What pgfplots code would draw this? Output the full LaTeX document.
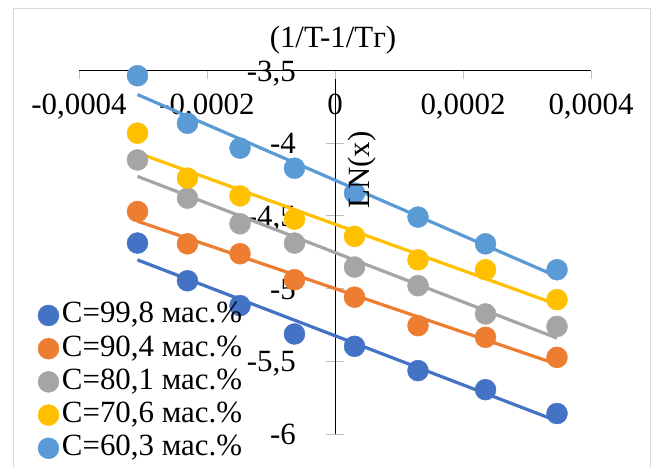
\documentclass[border=0pt]{standalone}
\usepackage{fontspec}
\setmainfont{Liberation Serif}
\usepackage{pgfplots}
\usepackage{pgfplotstable}
\pgfplotsset{compat=1.18}

\definecolor{cA}{HTML}{4472C4}
\definecolor{cB}{HTML}{ED7D31}
\definecolor{cC}{HTML}{A5A5A5}
\definecolor{cD}{HTML}{FFC000}
\definecolor{cE}{HTML}{5B9BD5}
\definecolor{axgray}{HTML}{BFBFBF}
\definecolor{framegray}{HTML}{D9D9D9}

\newcommand\bigfont{\fontsize{31}{37}\selectfont}

% C = 99,8
\pgfplotstableread{
x y
-0.0003086 -4.687
-0.0002305 -4.946
-0.0001484 -5.117
-0.0000633 -5.312
0.0000305 -5.397
0.0001297 -5.564
0.0002352 -5.695
0.0003469 -5.859
}\tabA
% C = 90,4
\pgfplotstableread{
x y
-0.0003086 -4.470
-0.0002305 -4.692
-0.0001484 -4.760
-0.0000633 -4.939
0.0000305 -5.059
0.0001297 -5.255
0.0002352 -5.335
0.0003469 -5.473
}\tabB
% C = 80,1
\pgfplotstableread{
x y
-0.0003086 -4.115
-0.0002305 -4.378
-0.0001484 -4.554
-0.0000633 -4.687
0.0000305 -4.852
0.0001297 -4.980
0.0002352 -5.174
0.0003469 -5.260
}\tabC
% C = 70,6
\pgfplotstableread{
x y
-0.0003086 -3.931
-0.0002305 -4.240
-0.0001484 -4.362
-0.0000633 -4.522
0.0000305 -4.641
0.0001297 -4.802
0.0002352 -4.870
0.0003469 -5.076
}\tabD
% C = 60,3
\pgfplotstableread{
x y
-0.0003086 -3.536
-0.0002305 -3.863
-0.0001484 -4.034
-0.0000633 -4.172
0.0000305 -4.343
0.0001297 -4.508
0.0002352 -4.692
0.0003469 -4.870
}\tabE

\begin{document}
\begin{tikzpicture}
\useasboundingbox (0,0) rectangle (654bp,-468bp);
\draw[framegray, line width=1bp] (13.5bp,-480bp) -- (13.5bp,-8bp) -- (650bp,-8bp) -- (650bp,-480bp);
\node[font=\bigfont, anchor=base, inner sep=0pt] at (333bp,-47bp) {(1/T-1/Tг)};

\begin{axis}[
    at={(79bp,-434bp)}, anchor=south west,
    scale only axis, width=512bp, height=363.5bp,
    xmin=-0.0004, xmax=0.0004, ymin=-6, ymax=-3.5,
    axis x line=top, axis y line=center,
    axis line style={axgray, line width=1bp, -},
    every inner y axis line/.style={},
    every outer x axis line/.style={},
    hide obscured x ticks=false, hide obscured y ticks=false,
    scaled x ticks=false, scaled y ticks=false,
    xtick={-0.0004,-0.0002,0,0.0002,0.0004},
    xticklabels={{-0,0004},{-0,0002},0,{0,0002},{0,0004}},
    ytick={-6,-5.5,-5,-4.5,-4,-3.5},
    yticklabels={-6,{-5,5},-5,{-4,5},-4,{-3,5}},
    tick style={axgray, line width=1bp},
    major tick length=18bp, tick align=center,
    xtick style={draw=none},
    tick label style={font=\bigfont, inner sep=0pt},
    xticklabel style={anchor=base, yshift=-53bp},
    yticklabel style={anchor=base east, xshift=-30bp, yshift=-10.5bp},
    clip=false,
    legend style={at={(-0.0801,0.366)}, anchor=north west, draw=none, fill=none,
        font=\bigfont, inner sep=0pt, outer sep=0pt, row sep=4.2bp, column sep=3bp,
        nodes={inner sep=0pt, text height=22bp, text depth=7bp}},
    legend cell align=left,
]
\addplot[only marks, mark=*, mark size=10.5bp, color=cA] table[x=x, y=y] {\tabA};
\addlegendentry{C=99,8 мас.\%}
\addplot[only marks, mark=*, mark size=10.5bp, color=cB] table[x=x, y=y] {\tabB};
\addlegendentry{C=90,4 мас.\%}
\addplot[only marks, mark=*, mark size=10.5bp, color=cC] table[x=x, y=y] {\tabC};
\addlegendentry{C=80,1 мас.\%}
\addplot[only marks, mark=*, mark size=10.5bp, color=cD] table[x=x, y=y] {\tabD};
\addlegendentry{C=70,6 мас.\%}
\addplot[only marks, mark=*, mark size=10.5bp, color=cE] table[x=x, y=y] {\tabE};
\addlegendentry{C=60,3 мас.\%}

\addplot[no markers, line width=3.2bp, cA, forget plot] table[x=x, y={create col/linear regression={y=y}}] {\tabA};
\addplot[no markers, line width=3.2bp, cB, forget plot] table[x=x, y={create col/linear regression={y=y}}] {\tabB};
\addplot[no markers, line width=3.2bp, cC, forget plot] table[x=x, y={create col/linear regression={y=y}}] {\tabC};
\addplot[no markers, line width=3.2bp, cD, forget plot] table[x=x, y={create col/linear regression={y=y}}] {\tabD};
\addplot[no markers, line width=3.2bp, cE, forget plot] table[x=x, y={create col/linear regression={y=y}}] {\tabE};
\end{axis}

\foreach \px in {79,207,335,463,591}
  \draw[axgray, line width=1bp] (\px bp,-70.5bp) -- (\px bp,-79bp);
\node[font=\bigfont, rotate=90, inner sep=0pt] at (362bp,-170bp) {LN(x)};
\end{tikzpicture}
\end{document}
